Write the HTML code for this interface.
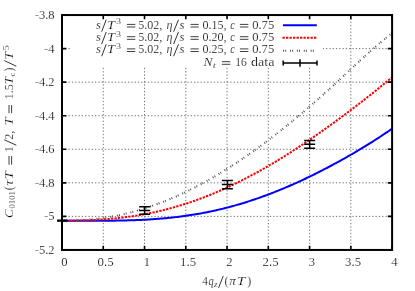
<!DOCTYPE html>
<html><head><meta charset="utf-8"><title>plot</title>
<style>html,body{margin:0;padding:0;background:#fff;}body{width:415px;height:291px;overflow:hidden;font-family:"Liberation Serif",serif;}svg{display:block;will-change:transform}text{stroke:#fff;stroke-width:0.2px}</style>
</head><body>
<svg width="415" height="291" viewBox="0 0 415 291" font-family="Liberation Serif, serif" fill="#000">
<rect width="415" height="291" fill="#fff"/>
<path d="M103.26,15.05 V249.95 M144.53,15.05 V249.95 M185.79,15.05 V249.95 M227.05,15.05 V249.95 M268.31,15.05 V249.95 M309.58,15.05 V249.95 M350.84,15.05 V249.95 M62.0,48.61 H392.1 M62.0,82.16 H392.1 M62.0,115.72 H392.1 M62.0,149.28 H392.1 M62.0,182.84 H392.1 M62.0,216.39 H392.1" stroke="#444" stroke-width="0.75" stroke-dasharray="1.3 2.0" fill="none"/>
<rect x="70" y="16" width="253" height="51" fill="#fff"/>
<clipPath id="c"><rect x="62.0" y="15.05" width="330.1" height="234.89999999999998"/></clipPath>
<g clip-path="url(#c)" fill="none">
<path d="M62.00,220.70 L63.65,220.70 L65.30,220.70 L66.95,220.70 L68.60,220.71 L70.25,220.71 L71.90,220.71 L73.55,220.71 L75.20,220.72 L76.85,220.72 L78.50,220.73 L80.16,220.73 L81.81,220.73 L83.46,220.74 L85.11,220.74 L86.76,220.74 L88.41,220.75 L90.06,220.75 L91.71,220.75 L93.36,220.75 L95.01,220.75 L96.66,220.75 L98.31,220.74 L99.96,220.74 L101.61,220.73 L103.26,220.73 L104.91,220.72 L106.56,220.71 L108.21,220.70 L109.86,220.68 L111.52,220.67 L113.17,220.65 L114.82,220.63 L116.47,220.61 L118.12,220.58 L119.77,220.55 L121.42,220.52 L123.07,220.49 L124.72,220.45 L126.37,220.41 L128.02,220.37 L129.67,220.32 L131.32,220.27 L132.97,220.21 L134.62,220.16 L136.27,220.09 L137.92,220.03 L139.57,219.96 L141.22,219.88 L142.87,219.80 L144.53,219.72 L146.18,219.63 L147.83,219.54 L149.48,219.44 L151.13,219.34 L152.78,219.23 L154.43,219.11 L156.08,219.00 L157.73,218.87 L159.38,218.74 L161.03,218.61 L162.68,218.47 L164.33,218.32 L165.98,218.16 L167.63,218.01 L169.28,217.84 L170.93,217.67 L172.58,217.49 L174.23,217.31 L175.88,217.12 L177.54,216.92 L179.19,216.71 L180.84,216.50 L182.49,216.29 L184.14,216.06 L185.79,215.83 L187.44,215.59 L189.09,215.35 L190.74,215.09 L192.39,214.83 L194.04,214.57 L195.69,214.29 L197.34,214.01 L198.99,213.72 L200.64,213.42 L202.29,213.12 L203.94,212.80 L205.59,212.48 L207.24,212.16 L208.89,211.82 L210.55,211.48 L212.20,211.13 L213.85,210.77 L215.50,210.40 L217.15,210.03 L218.80,209.65 L220.45,209.26 L222.10,208.86 L223.75,208.45 L225.40,208.04 L227.05,207.61 L228.70,207.18 L230.35,206.75 L232.00,206.30 L233.65,205.85 L235.30,205.38 L236.95,204.91 L238.60,204.44 L240.25,203.95 L241.90,203.46 L243.56,202.95 L245.21,202.44 L246.86,201.93 L248.51,201.40 L250.16,200.87 L251.81,200.32 L253.46,199.77 L255.11,199.22 L256.76,198.65 L258.41,198.08 L260.06,197.50 L261.71,196.91 L263.36,196.31 L265.01,195.71 L266.66,195.10 L268.31,194.48 L269.96,193.85 L271.61,193.22 L273.26,192.58 L274.91,191.93 L276.57,191.27 L278.22,190.61 L279.87,189.94 L281.52,189.26 L283.17,188.58 L284.82,187.88 L286.47,187.18 L288.12,186.48 L289.77,185.76 L291.42,185.04 L293.07,184.31 L294.72,183.58 L296.37,182.84 L298.02,182.09 L299.67,181.33 L301.32,180.57 L302.97,179.80 L304.62,179.03 L306.27,178.25 L307.92,177.46 L309.58,176.66 L311.23,175.86 L312.88,175.06 L314.53,174.24 L316.18,173.42 L317.83,172.59 L319.48,171.76 L321.13,170.92 L322.78,170.08 L324.43,169.22 L326.08,168.37 L327.73,167.50 L329.38,166.63 L331.03,165.75 L332.68,164.87 L334.33,163.98 L335.98,163.09 L337.63,162.18 L339.28,161.28 L340.93,160.36 L342.59,159.44 L344.24,158.52 L345.89,157.58 L347.54,156.64 L349.19,155.70 L350.84,154.75 L352.49,153.79 L354.14,152.82 L355.79,151.85 L357.44,150.88 L359.09,149.89 L360.74,148.90 L362.39,147.91 L364.04,146.90 L365.69,145.89 L367.34,144.87 L368.99,143.85 L370.64,142.82 L372.29,141.78 L373.94,140.73 L375.60,139.68 L377.25,138.61 L378.90,137.55 L380.55,136.47 L382.20,135.38 L383.85,134.29 L385.50,133.19 L387.15,132.07 L388.80,130.96 L390.45,129.83 L392.10,128.69" stroke="#0000ff" stroke-width="2"/>
<path d="M62.00,220.70 L63.65,220.70 L65.30,220.69 L66.95,220.69 L68.60,220.68 L70.25,220.66 L71.90,220.64 L73.55,220.62 L75.20,220.59 L76.85,220.56 L78.50,220.53 L80.16,220.49 L81.81,220.45 L83.46,220.40 L85.11,220.35 L86.76,220.29 L88.41,220.22 L90.06,220.16 L91.71,220.08 L93.36,220.00 L95.01,219.92 L96.66,219.83 L98.31,219.73 L99.96,219.63 L101.61,219.52 L103.26,219.40 L104.91,219.28 L106.56,219.15 L108.21,219.02 L109.86,218.88 L111.52,218.73 L113.17,218.57 L114.82,218.41 L116.47,218.24 L118.12,218.07 L119.77,217.88 L121.42,217.69 L123.07,217.49 L124.72,217.29 L126.37,217.07 L128.02,216.85 L129.67,216.62 L131.32,216.38 L132.97,216.14 L134.62,215.89 L136.27,215.62 L137.92,215.35 L139.57,215.08 L141.22,214.79 L142.87,214.50 L144.53,214.19 L146.18,213.88 L147.83,213.56 L149.48,213.23 L151.13,212.89 L152.78,212.55 L154.43,212.19 L156.08,211.83 L157.73,211.45 L159.38,211.07 L161.03,210.68 L162.68,210.28 L164.33,209.87 L165.98,209.46 L167.63,209.03 L169.28,208.59 L170.93,208.15 L172.58,207.69 L174.23,207.23 L175.88,206.76 L177.54,206.28 L179.19,205.78 L180.84,205.28 L182.49,204.77 L184.14,204.26 L185.79,203.73 L187.44,203.19 L189.09,202.64 L190.74,202.09 L192.39,201.52 L194.04,200.95 L195.69,200.37 L197.34,199.77 L198.99,199.17 L200.64,198.56 L202.29,197.94 L203.94,197.31 L205.59,196.67 L207.24,196.02 L208.89,195.37 L210.55,194.70 L212.20,194.03 L213.85,193.34 L215.50,192.65 L217.15,191.95 L218.80,191.24 L220.45,190.52 L222.10,189.79 L223.75,189.05 L225.40,188.30 L227.05,187.55 L228.70,186.78 L230.35,186.01 L232.00,185.23 L233.65,184.44 L235.30,183.64 L236.95,182.83 L238.60,182.02 L240.25,181.20 L241.90,180.36 L243.56,179.52 L245.21,178.67 L246.86,177.82 L248.51,176.95 L250.16,176.08 L251.81,175.20 L253.46,174.31 L255.11,173.41 L256.76,172.51 L258.41,171.59 L260.06,170.67 L261.71,169.75 L263.36,168.81 L265.01,167.87 L266.66,166.92 L268.31,165.96 L269.96,164.99 L271.61,164.02 L273.26,163.04 L274.91,162.05 L276.57,161.06 L278.22,160.06 L279.87,159.05 L281.52,158.04 L283.17,157.02 L284.82,155.99 L286.47,154.95 L288.12,153.91 L289.77,152.86 L291.42,151.81 L293.07,150.75 L294.72,149.68 L296.37,148.61 L298.02,147.53 L299.67,146.44 L301.32,145.35 L302.97,144.25 L304.62,143.15 L306.27,142.04 L307.92,140.92 L309.58,139.80 L311.23,138.67 L312.88,137.54 L314.53,136.40 L316.18,135.26 L317.83,134.11 L319.48,132.96 L321.13,131.80 L322.78,130.63 L324.43,129.46 L326.08,128.28 L327.73,127.10 L329.38,125.92 L331.03,124.73 L332.68,123.53 L334.33,122.33 L335.98,121.12 L337.63,119.91 L339.28,118.70 L340.93,117.48 L342.59,116.25 L344.24,115.02 L345.89,113.79 L347.54,112.55 L349.19,111.30 L350.84,110.05 L352.49,108.80 L354.14,107.54 L355.79,106.28 L357.44,105.01 L359.09,103.74 L360.74,102.46 L362.39,101.18 L364.04,99.89 L365.69,98.60 L367.34,97.31 L368.99,96.01 L370.64,94.70 L372.29,93.39 L373.94,92.08 L375.60,90.76 L377.25,89.44 L378.90,88.11 L380.55,86.78 L382.20,85.44 L383.85,84.09 L385.50,82.75 L387.15,81.39 L388.80,80.04 L390.45,78.67 L392.10,77.30" stroke="#ff0000" stroke-width="2" stroke-dasharray="2.3 1.2"/>
<path d="M62.00,220.70 L63.65,220.70 L65.30,220.69 L66.95,220.67 L68.60,220.64 L70.25,220.60 L71.90,220.56 L73.55,220.51 L75.20,220.45 L76.85,220.38 L78.50,220.30 L80.16,220.21 L81.81,220.11 L83.46,220.01 L85.11,219.89 L86.76,219.76 L88.41,219.62 L90.06,219.48 L91.71,219.32 L93.36,219.15 L95.01,218.97 L96.66,218.78 L98.31,218.58 L99.96,218.37 L101.61,218.15 L103.26,217.91 L104.91,217.67 L106.56,217.42 L108.21,217.15 L109.86,216.87 L111.52,216.58 L113.17,216.28 L114.82,215.97 L116.47,215.65 L118.12,215.32 L119.77,214.97 L121.42,214.61 L123.07,214.24 L124.72,213.87 L126.37,213.47 L128.02,213.07 L129.67,212.66 L131.32,212.23 L132.97,211.79 L134.62,211.35 L136.27,210.89 L137.92,210.41 L139.57,209.93 L141.22,209.44 L142.87,208.93 L144.53,208.41 L146.18,207.89 L147.83,207.35 L149.48,206.80 L151.13,206.23 L152.78,205.66 L154.43,205.08 L156.08,204.48 L157.73,203.87 L159.38,203.25 L161.03,202.63 L162.68,201.98 L164.33,201.33 L165.98,200.67 L167.63,200.00 L169.28,199.31 L170.93,198.62 L172.58,197.91 L174.23,197.20 L175.88,196.47 L177.54,195.73 L179.19,194.99 L180.84,194.23 L182.49,193.46 L184.14,192.68 L185.79,191.89 L187.44,191.09 L189.09,190.28 L190.74,189.46 L192.39,188.63 L194.04,187.78 L195.69,186.93 L197.34,186.07 L198.99,185.20 L200.64,184.32 L202.29,183.43 L203.94,182.52 L205.59,181.61 L207.24,180.69 L208.89,179.76 L210.55,178.82 L212.20,177.87 L213.85,176.91 L215.50,175.94 L217.15,174.96 L218.80,173.98 L220.45,172.98 L222.10,171.97 L223.75,170.95 L225.40,169.93 L227.05,168.89 L228.70,167.85 L230.35,166.80 L232.00,165.74 L233.65,164.66 L235.30,163.58 L236.95,162.50 L238.60,161.40 L240.25,160.29 L241.90,159.18 L243.56,158.05 L245.21,156.92 L246.86,155.78 L248.51,154.63 L250.16,153.47 L251.81,152.30 L253.46,151.13 L255.11,149.94 L256.76,148.75 L258.41,147.55 L260.06,146.34 L261.71,145.12 L263.36,143.90 L265.01,142.67 L266.66,141.43 L268.31,140.18 L269.96,138.92 L271.61,137.66 L273.26,136.38 L274.91,135.11 L276.57,133.82 L278.22,132.52 L279.87,131.22 L281.52,129.91 L283.17,128.60 L284.82,127.27 L286.47,125.94 L288.12,124.60 L289.77,123.26 L291.42,121.91 L293.07,120.55 L294.72,119.18 L296.37,117.81 L298.02,116.43 L299.67,115.05 L301.32,113.65 L302.97,112.26 L304.62,110.85 L306.27,109.44 L307.92,108.02 L309.58,106.60 L311.23,105.17 L312.88,103.73 L314.53,102.29 L316.18,100.84 L317.83,99.38 L319.48,97.92 L321.13,96.45 L322.78,94.98 L324.43,93.50 L326.08,92.01 L327.73,90.52 L329.38,89.02 L331.03,87.51 L332.68,86.00 L334.33,84.48 L335.98,82.96 L337.63,81.44 L339.28,79.91 L340.93,78.37 L342.59,76.83 L344.24,75.30 L345.89,73.75 L347.54,72.21 L349.19,70.67 L350.84,69.13 L352.49,67.59 L354.14,66.05 L355.79,64.52 L357.44,62.99 L359.09,61.47 L360.74,59.95 L362.39,58.44 L364.04,56.94 L365.69,55.45 L367.34,53.97 L368.99,52.50 L370.64,51.04 L372.29,49.59 L373.94,48.15 L375.60,46.72 L377.25,45.31 L378.90,43.91 L380.55,42.52 L382.20,41.14 L383.85,39.77 L385.50,38.42 L387.15,37.07 L388.80,35.74 L390.45,34.42 L392.10,33.12" stroke="#585858" stroke-width="2" stroke-dasharray="1 1.1 1 3.8"/>
</g>
<path d="M62.30,220.3 V220.9 M57.10,220.3 H67.50 M57.10,220.9 H67.50 M57.10,220.6 H67.50 M144.65,206.7 V214.3 M139.15,206.7 H150.15 M139.15,214.3 H150.15 M139.15,210.6 H150.15 M227.40,180.4 V188.8 M221.90,180.4 H232.90 M221.90,188.8 H232.90 M221.90,184.6 H232.90 M309.65,140.4 V148.3 M304.15,140.4 H315.15 M304.15,148.3 H315.15 M304.15,144.35 H315.15" stroke="#000" stroke-width="1.5" fill="none"/>
<path d="M62.00,249.95 v-4.3 M62.00,15.05 v4.3 M103.26,249.95 v-4.3 M103.26,15.05 v4.3 M144.53,249.95 v-4.3 M144.53,15.05 v4.3 M185.79,249.95 v-4.3 M185.79,15.05 v4.3 M227.05,249.95 v-4.3 M227.05,15.05 v4.3 M268.31,249.95 v-4.3 M268.31,15.05 v4.3 M309.58,249.95 v-4.3 M309.58,15.05 v4.3 M350.84,249.95 v-4.3 M350.84,15.05 v4.3 M392.10,249.95 v-4.3 M392.10,15.05 v4.3 M62.0,15.05 h4.3 M392.1,15.05 h-4.3 M62.0,48.61 h4.3 M392.1,48.61 h-4.3 M62.0,82.16 h4.3 M392.1,82.16 h-4.3 M62.0,115.72 h4.3 M392.1,115.72 h-4.3 M62.0,149.28 h4.3 M392.1,149.28 h-4.3 M62.0,182.84 h4.3 M392.1,182.84 h-4.3 M62.0,216.39 h4.3 M392.1,216.39 h-4.3 M62.0,249.95 h4.3 M392.1,249.95 h-4.3" stroke="#000" stroke-width="1.6" fill="none"/>
<rect x="62.0" y="15.05" width="330.1" height="234.89999999999998" fill="none" stroke="#000" stroke-width="2"/>
<path d="M283,25.2 H316.8" stroke="#0000ff" stroke-width="2"/>
<path d="M282.5,37.75 H316.6" stroke="#ff0000" stroke-width="2" stroke-dasharray="2.3 1.2"/>
<path d="M283.1,50.7 H316.8" stroke="#585858" stroke-width="2" stroke-dasharray="1 1.1 1 3.8"/>
<path d="M282.6,63 H317.6 M283.2,60.4 V65.6 M317,60.4 V65.6 M300,59.3 V66.7" stroke="#000" stroke-width="1.5" fill="none"/>
<text x="54.6" y="18.95" text-anchor="end" font-size="12.5">-3.8</text>
<text x="54.6" y="52.51" text-anchor="end" font-size="12.5">-4</text>
<text x="54.6" y="86.06" text-anchor="end" font-size="12.5">-4.2</text>
<text x="54.6" y="119.62" text-anchor="end" font-size="12.5">-4.4</text>
<text x="54.6" y="153.18" text-anchor="end" font-size="12.5">-4.6</text>
<text x="54.6" y="186.74" text-anchor="end" font-size="12.5">-4.8</text>
<text x="54.6" y="220.29" text-anchor="end" font-size="12.5">-5</text>
<text x="54.6" y="253.85" text-anchor="end" font-size="12.5">-5.2</text>
<text x="61.15" y="265.8" font-size="12.5" textLength="6.3" lengthAdjust="spacingAndGlyphs">0</text>
<text x="97.56" y="265.8" font-size="12.5" textLength="16.0" lengthAdjust="spacingAndGlyphs">0.5</text>
<text x="143.68" y="265.8" font-size="12.5" textLength="6.3" lengthAdjust="spacingAndGlyphs">1</text>
<text x="180.09" y="265.8" font-size="12.5" textLength="16.0" lengthAdjust="spacingAndGlyphs">1.5</text>
<text x="226.20" y="265.8" font-size="12.5" textLength="6.3" lengthAdjust="spacingAndGlyphs">2</text>
<text x="262.61" y="265.8" font-size="12.5" textLength="16.0" lengthAdjust="spacingAndGlyphs">2.5</text>
<text x="308.73" y="265.8" font-size="12.5" textLength="6.3" lengthAdjust="spacingAndGlyphs">3</text>
<text x="345.14" y="265.8" font-size="12.5" textLength="16.0" lengthAdjust="spacingAndGlyphs">3.5</text>
<text x="391.25" y="265.8" font-size="12.5" textLength="6.3" lengthAdjust="spacingAndGlyphs">4</text>
<g transform="translate(0,28.7)"><text x="96.00" y="0.00" font-style="italic" font-size="12" textLength="4.90" lengthAdjust="spacingAndGlyphs">s</text><path d="M101.70,3.00 L106.20,-9.00" stroke="#000" stroke-width="0.8" fill="none"/><text x="106.90" y="0.00" font-style="italic" font-size="12" textLength="8.00" lengthAdjust="spacingAndGlyphs">T</text><text x="116.10" y="-4.30" font-size="8.6" textLength="5.00" lengthAdjust="spacingAndGlyphs">3</text><path d="M126.90,-4.30 H135.30 M126.90,-1.70 H135.30" stroke="#000" stroke-width="0.75" fill="none"/><text x="138.20" y="0.00" font-size="12">5.02,</text><text x="166.50" y="0.00" font-style="italic" font-size="12" textLength="6.00" lengthAdjust="spacingAndGlyphs">η</text><path d="M173.60,3.00 L178.50,-9.00" stroke="#000" stroke-width="0.8" fill="none"/><text x="179.50" y="0.00" font-style="italic" font-size="12" textLength="5.00" lengthAdjust="spacingAndGlyphs">s</text><path d="M190.50,-4.30 H198.70 M190.50,-1.70 H198.70" stroke="#000" stroke-width="0.75" fill="none"/><text x="202.50" y="0.00" font-size="12">0.15,</text><text x="230.20" y="0.00" font-style="italic" font-size="12" textLength="4.80" lengthAdjust="spacingAndGlyphs">c</text><path d="M239.90,-4.30 H248.40 M239.90,-1.70 H248.40" stroke="#000" stroke-width="0.75" fill="none"/><text x="252.20" y="0.00" font-size="12" textLength="22.00" lengthAdjust="spacingAndGlyphs">0.75</text></g>
<g transform="translate(0,41.0)"><text x="96.00" y="0.00" font-style="italic" font-size="12" textLength="4.90" lengthAdjust="spacingAndGlyphs">s</text><path d="M101.70,3.00 L106.20,-9.00" stroke="#000" stroke-width="0.8" fill="none"/><text x="106.90" y="0.00" font-style="italic" font-size="12" textLength="8.00" lengthAdjust="spacingAndGlyphs">T</text><text x="116.10" y="-4.30" font-size="8.6" textLength="5.00" lengthAdjust="spacingAndGlyphs">3</text><path d="M126.90,-4.30 H135.30 M126.90,-1.70 H135.30" stroke="#000" stroke-width="0.75" fill="none"/><text x="138.20" y="0.00" font-size="12">5.02,</text><text x="166.50" y="0.00" font-style="italic" font-size="12" textLength="6.00" lengthAdjust="spacingAndGlyphs">η</text><path d="M173.60,3.00 L178.50,-9.00" stroke="#000" stroke-width="0.8" fill="none"/><text x="179.50" y="0.00" font-style="italic" font-size="12" textLength="5.00" lengthAdjust="spacingAndGlyphs">s</text><path d="M190.50,-4.30 H198.70 M190.50,-1.70 H198.70" stroke="#000" stroke-width="0.75" fill="none"/><text x="202.50" y="0.00" font-size="12">0.20,</text><text x="230.20" y="0.00" font-style="italic" font-size="12" textLength="4.80" lengthAdjust="spacingAndGlyphs">c</text><path d="M239.90,-4.30 H248.40 M239.90,-1.70 H248.40" stroke="#000" stroke-width="0.75" fill="none"/><text x="252.20" y="0.00" font-size="12" textLength="22.00" lengthAdjust="spacingAndGlyphs">0.75</text></g>
<g transform="translate(0,53.2)"><text x="96.00" y="0.00" font-style="italic" font-size="12" textLength="4.90" lengthAdjust="spacingAndGlyphs">s</text><path d="M101.70,3.00 L106.20,-9.00" stroke="#000" stroke-width="0.8" fill="none"/><text x="106.90" y="0.00" font-style="italic" font-size="12" textLength="8.00" lengthAdjust="spacingAndGlyphs">T</text><text x="116.10" y="-4.30" font-size="8.6" textLength="5.00" lengthAdjust="spacingAndGlyphs">3</text><path d="M126.90,-4.30 H135.30 M126.90,-1.70 H135.30" stroke="#000" stroke-width="0.75" fill="none"/><text x="138.20" y="0.00" font-size="12">5.02,</text><text x="166.50" y="0.00" font-style="italic" font-size="12" textLength="6.00" lengthAdjust="spacingAndGlyphs">η</text><path d="M173.60,3.00 L178.50,-9.00" stroke="#000" stroke-width="0.8" fill="none"/><text x="179.50" y="0.00" font-style="italic" font-size="12" textLength="5.00" lengthAdjust="spacingAndGlyphs">s</text><path d="M190.50,-4.30 H198.70 M190.50,-1.70 H198.70" stroke="#000" stroke-width="0.75" fill="none"/><text x="202.50" y="0.00" font-size="12">0.25,</text><text x="230.20" y="0.00" font-style="italic" font-size="12" textLength="4.80" lengthAdjust="spacingAndGlyphs">c</text><path d="M239.90,-4.30 H248.40 M239.90,-1.70 H248.40" stroke="#000" stroke-width="0.75" fill="none"/><text x="252.20" y="0.00" font-size="12" textLength="22.00" lengthAdjust="spacingAndGlyphs">0.75</text></g>
<g transform="translate(0,66.0)"><text x="203.60" y="0.00" font-style="italic" font-size="12" textLength="9.00" lengthAdjust="spacingAndGlyphs">N</text><text x="212.80" y="1.80" font-style="italic" font-size="8.6" textLength="3.20" lengthAdjust="spacingAndGlyphs">t</text><path d="M221.90,-4.30 H230.30 M221.90,-1.70 H230.30" stroke="#000" stroke-width="0.75" fill="none"/><text x="235.30" y="0.00" font-size="12" textLength="11.60" lengthAdjust="spacingAndGlyphs">16</text><text x="251.00" y="0.00" font-size="12" textLength="23.40" lengthAdjust="spacingAndGlyphs">data</text></g>
<g transform="translate(0,284.9)"><text x="202.30" y="0.00" font-size="12" textLength="5.60" lengthAdjust="spacingAndGlyphs">4</text><text x="208.40" y="0.00" font-style="italic" font-size="12" textLength="5.20" lengthAdjust="spacingAndGlyphs">q</text><text x="214.00" y="1.80" font-style="italic" font-size="8.6" textLength="3.60" lengthAdjust="spacingAndGlyphs">z</text><path d="M218.60,3.00 L223.20,-9.00" stroke="#000" stroke-width="0.8" fill="none"/><text x="224.60" y="0.00" font-size="12" textLength="4.00" lengthAdjust="spacingAndGlyphs">(</text><text x="229.20" y="0.00" font-style="italic" font-size="12" textLength="6.60" lengthAdjust="spacingAndGlyphs">π</text><text x="236.80" y="0.00" font-style="italic" font-size="12" textLength="8.60" lengthAdjust="spacingAndGlyphs">T</text><text x="247.20" y="0.00" font-size="12" textLength="4.00" lengthAdjust="spacingAndGlyphs">)</text></g>
<g transform="translate(13.3,218) rotate(-90)"><text x="0.00" y="0.00" font-style="italic" font-size="12" textLength="9.00" lengthAdjust="spacingAndGlyphs">C</text><text x="9.40" y="1.80" font-size="8.6" textLength="17.60" lengthAdjust="spacingAndGlyphs">0101</text><text x="27.80" y="0.00" font-size="12" textLength="4.00" lengthAdjust="spacingAndGlyphs">(</text><text x="32.30" y="0.00" font-style="italic" font-size="12" textLength="5.90" lengthAdjust="spacingAndGlyphs">τ</text><text x="38.50" y="0.00" font-style="italic" font-size="12" textLength="8.40" lengthAdjust="spacingAndGlyphs">T</text><path d="M53.30,-4.30 H62.00 M53.30,-1.70 H62.00" stroke="#000" stroke-width="0.75" fill="none"/><text x="65.80" y="0.00" font-size="12">1</text><path d="M72.80,3.00 L78.20,-9.00" stroke="#000" stroke-width="0.8" fill="none"/><text x="78.30" y="0.00" font-size="12">2,</text><text x="92.20" y="0.00" font-style="italic" font-size="12" textLength="8.40" lengthAdjust="spacingAndGlyphs">T</text><path d="M104.80,-4.30 H113.00 M104.80,-1.70 H113.00" stroke="#000" stroke-width="0.75" fill="none"/><text x="118.80" y="0.00" font-size="12" textLength="14.80" lengthAdjust="spacingAndGlyphs">1.5</text><text x="133.40" y="0.00" font-style="italic" font-size="12" textLength="7.80" lengthAdjust="spacingAndGlyphs">T</text><text x="141.60" y="1.80" font-size="8.6" textLength="4.00" lengthAdjust="spacingAndGlyphs">c</text><text x="146.50" y="0.00" font-size="12" textLength="4.00" lengthAdjust="spacingAndGlyphs">)</text><path d="M151.80,3.00 L157.40,-9.00" stroke="#000" stroke-width="0.8" fill="none"/><text x="158.00" y="0.00" font-style="italic" font-size="12" textLength="8.40" lengthAdjust="spacingAndGlyphs">T</text><text x="167.60" y="-4.30" font-size="8.6" textLength="5.40" lengthAdjust="spacingAndGlyphs">5</text></g>
</svg>
</body></html>
